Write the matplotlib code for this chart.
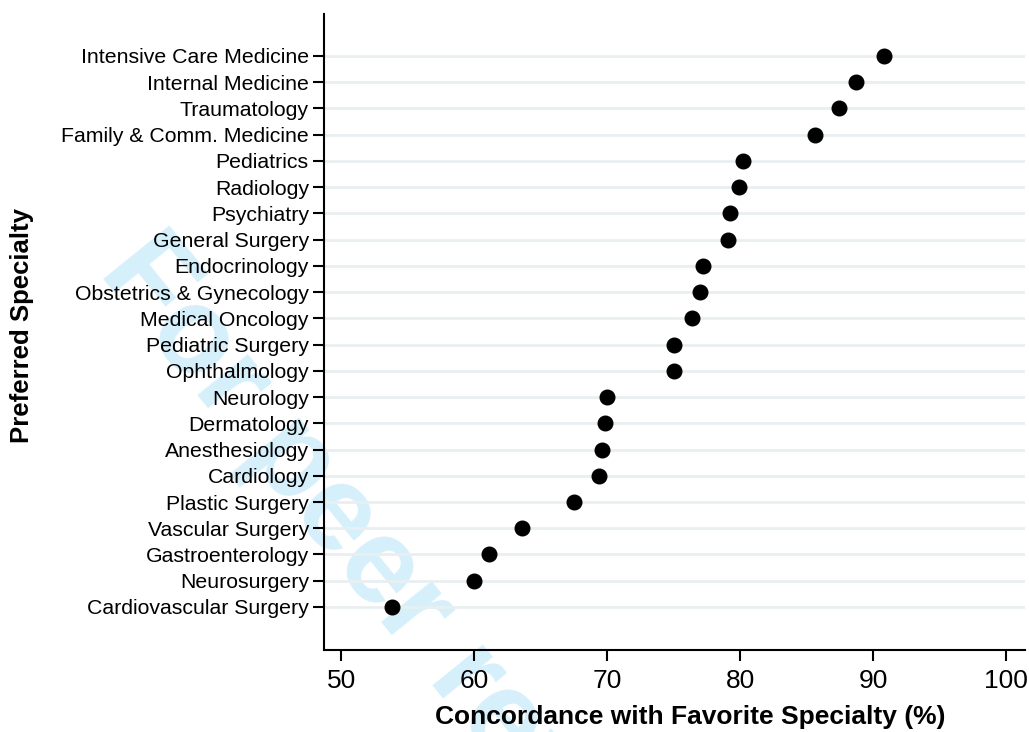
import matplotlib
matplotlib.use("Agg")
import matplotlib.pyplot as plt
import numpy as np

plt.rcParams['font.family'] = ['Liberation Sans', 'DejaVu Sans']

specialties = [
    "Intensive Care Medicine", "Internal Medicine", "Traumatology",
    "Family & Comm. Medicine", "Pediatrics", "Radiology", "Psychiatry",
    "General Surgery", "Endocrinology", "Obstetrics & Gynecology",
    "Medical Oncology", "Pediatric Surgery", "Ophthalmology", "Neurology",
    "Dermatology", "Anesthesiology", "Cardiology", "Plastic Surgery",
    "Vascular Surgery", "Gastroenterology", "Neurosurgery",
    "Cardiovascular Surgery",
]
concordance = [
    90.8, 88.7, 87.4, 85.6, 80.2, 79.9, 79.2, 79.1, 77.2, 77.0,
    76.4, 75.0, 75.0, 70.0, 69.8, 69.6, 69.4, 67.5, 63.6, 61.1,
    60.0, 53.8,
]
xticks = [50, 60, 70, 80, 90, 100]

fig = plt.figure(figsize=(10.29, 7.32), dpi=100)
ax = fig.add_axes([0.315, 0.112, 0.681, 0.869])
ax.patch.set_alpha(0)

ypos = np.arange(len(specialties))
for y in ypos:
    ax.axhline(y, color='#e9eff1', lw=2.0, zorder=1)

ax.plot(concordance, ypos, 'o', color='black', markersize=10.5, zorder=3, linestyle='none')

ax.set_yticks(ypos)
ax.set_yticklabels(specialties, fontsize=15.3)
ax.set_ylim(len(specialties) - 1 + 1.64, -1.6)
ax.set_xlim(48.7, 101.4)
ax.set_xticks(xticks)
ax.set_xticklabels([str(t) for t in xticks], fontsize=19)

ax.tick_params(axis='y', length=8, width=1.5, pad=3)
ax.tick_params(axis='x', length=8, width=1.5, pad=6)

for s in ['top', 'right']:
    ax.spines[s].set_visible(False)
for s in ['left', 'bottom']:
    ax.spines[s].set_linewidth(1.5)

ax.set_xlabel("Concordance with Favorite Specialty (%)", fontsize=19, fontweight='bold')
ax.xaxis.set_label_coords(0.522, -0.086)
ax.set_ylabel("Preferred Specialty", fontsize=18.5, fontweight='bold')
ax.yaxis.set_label_coords(-0.414, 0.51)

fig.text(0.095, 1 - 272 / 732, "For peer review", fontsize=88, fontweight='bold',
         color='#d6f0fb', rotation=-51, ha='left', va='baseline',
         rotation_mode='anchor', zorder=-1)

fig.savefig("out.png", dpi=100)
